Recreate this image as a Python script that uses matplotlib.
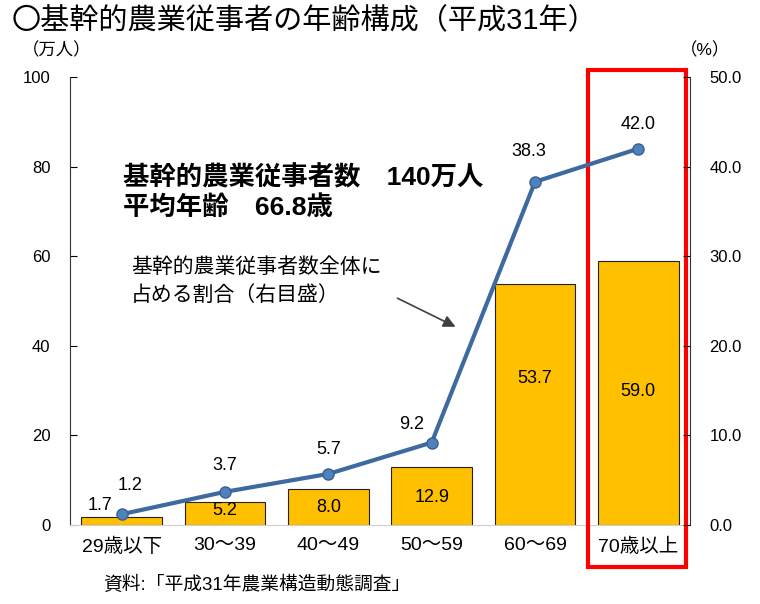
import matplotlib
matplotlib.use("Agg")
import matplotlib.pyplot as plt
from matplotlib.patches import Rectangle

FAM = ['Liberation Sans', 'Noto Sans CJK JP', 'DejaVu Sans']
plt.rcParams['font.family'] = FAM

categories = ["29歳以下", "30～39", "40～49", "50～59", "60～69", "70歳以上"]
workers = [1.7, 5.2, 8.0, 12.9, 53.7, 59.0]      # 万人 (left axis)
share = [1.2, 3.7, 5.7, 9.2, 38.3, 42.0]         # % (right axis)
left_ticks = [0, 20, 40, 60, 80, 100]
right_ticks = [0.0, 10.0, 20.0, 30.0, 40.0, 50.0]

# label layout
bar_label_y = [None, 3.3, 4.0, 6.2, 32.8, 29.7]
share_label_off = [(8, 29), (0, 26), (0, 24), (-20, 18), (-6, 30), (0, 24)]

fig = plt.figure(figsize=(7.6, 6.04), dpi=100)
ax = fig.add_axes([70/760, 1-525/604, 620/760, 448/604])
x = list(range(len(categories)))

ax.bar(x, workers, width=0.78, color='#FFC000', edgecolor='#222222', linewidth=0.8, zorder=2)
ax.set_xlim(-0.5, 5.5)
ax.set_ylim(0, 100)
ax.set_yticks(left_ticks)
ax.set_yticklabels([str(t) for t in left_ticks], fontsize=12)
ax.set_xticks(x)
ax.set_xticklabels(categories, fontsize=14)
ax.tick_params(axis='x', length=0, pad=9)
ax.tick_params(axis='y', direction='in', length=5, pad=14)
for s in ['top', 'right']:
    ax.spines[s].set_visible(False)
ax.spines['bottom'].set_color('#d0d0d0')
ax.spines['left'].set_color('#333333')

for i, v in enumerate(workers):
    if bar_label_y[i] is None:
        ax.annotate(f"{v:.1f}", (i, v), xytext=(-22, 3), textcoords='offset pixels',
                    ha='center', va='bottom', fontsize=13, zorder=5)
    else:
        ax.text(i, bar_label_y[i], f"{v:.1f}", ha='center', va='center', fontsize=13, zorder=5)

ax2 = ax.twinx()
ax2.set_ylim(0, 50)
ax2.set_yticks(right_ticks)
ax2.set_yticklabels([f"{t:.1f}" for t in right_ticks], fontsize=12)
ax2.tick_params(axis='y', direction='in', length=5, pad=14)
for s in ['top', 'left', 'bottom']:
    ax2.spines[s].set_visible(False)
ax2.spines['right'].set_color('#333333')
ax2.plot(x, share, color='#3E6AA0', linewidth=3, marker='o', markersize=8,
         markerfacecolor='#4F81BD', markeredgecolor='#3A5F8F', zorder=4)
for i, v in enumerate(share):
    dx, dy = share_label_off[i]
    ax2.annotate(f"{v:.1f}", (i, v), xytext=(dx, dy), textcoords='offset pixels',
                 ha='center', va='center', fontsize=13)

# red highlight box
rect = Rectangle((4.51, -9.4), 0.95, 111.0, transform=ax.transData, fill=False,
                 edgecolor='#FF0000', linewidth=3, clip_on=False, zorder=6)
ax.add_patch(rect)

# texts
fig.text(12/760, 1-21/604, "〇基幹的農業従事者の年齢構成（平成31年）", fontsize=21,
         ha='left', va='center')
fig.text(22/760, 1-50/604, "（万人）", fontsize=12.5, ha='left', va='center')
fig.text(680/760, 1-50/604, "（%）", fontsize=12.5, ha='left', va='center')
fig.text(123/760, 1-178/604, "基幹的農業従事者数　140万人", fontsize=19, fontweight='bold',
         ha='left', va='center')
fig.text(123/760, 1-208/604, "平均年齢　66.8歳", fontsize=19, fontweight='bold',
         ha='left', va='center')
fig.text(131/760, 1-267/604, "基幹的農業従事者数全体に", fontsize=15, ha='left', va='center')
fig.text(131/760, 1-295/604, "占める割合（右目盛）", fontsize=15, ha='left', va='center')
fig.text(103/760, 1-585/604, "資料:「平成31年農業構造動態調査」", fontsize=13.5, ha='left', va='center')

ax.annotate("", xy=(458/760, 1-328/604), xytext=(395/760, 1-297/604),
            xycoords='figure fraction', textcoords='figure fraction',
            arrowprops=dict(arrowstyle='-|>', color='#404040', lw=1.2, mutation_scale=18))

fig.savefig("out.png", dpi=100)
